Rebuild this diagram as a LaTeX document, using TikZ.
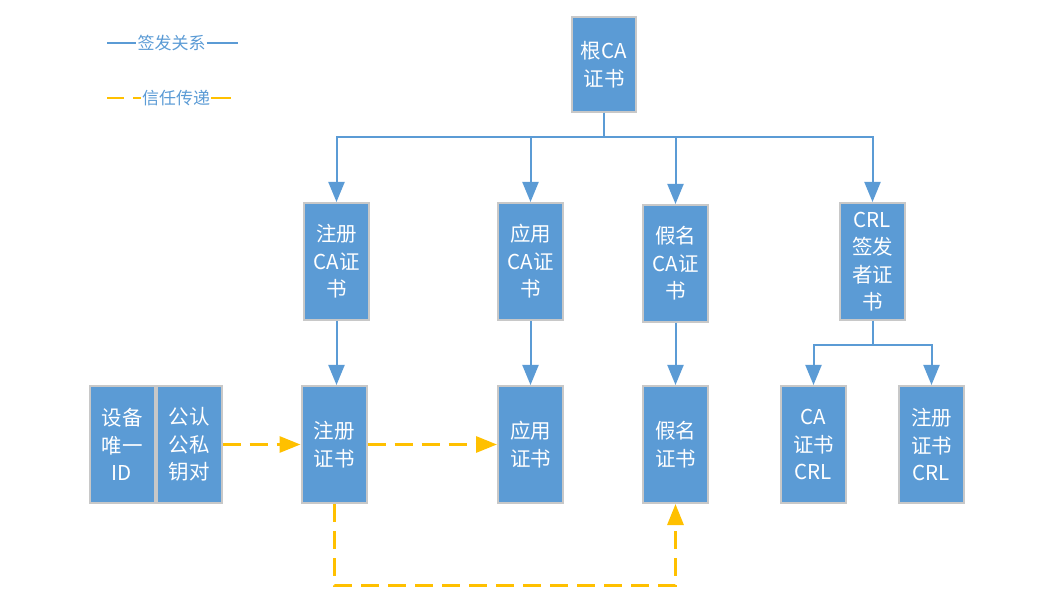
\documentclass[tikz,border=0pt]{standalone}
\usepackage{fontspec}
\setmainfont{Noto Sans CJK SC}
\usetikzlibrary{arrows.meta}
\definecolor{cablue}{HTML}{5B9BD5}
\definecolor{caborder}{HTML}{C8C8C8}
\definecolor{caorange}{HTML}{FFC000}
\begin{document}
\begin{tikzpicture}[x=1pt,y=-1pt,
  box/.style={draw=caborder, line width=2pt, fill=cablue, text=white,
    minimum width=65pt, minimum height=117pt, inner sep=0pt, align=center,
    font=\fontsize{20.5}{27.5}\selectfont},
  sign/.style={draw=cablue, line width=2pt, -{Triangle[width=16pt,length=20pt]}},
  trust/.style={draw=caorange, line width=3pt, dash pattern=on 18pt off 9pt,
    -{Triangle[width=16pt,length=21pt]}},
  legend/.style={text=cablue, inner sep=1pt, font=\fontsize{17}{19}\selectfont}]
\useasboundingbox (0,0) rectangle (1061,612);
% nodes
\node[box, minimum width=64pt, minimum height=95pt] (root) at (604,64.5) {根CA\\证书};
\node[box] (regca) at (336.5,261.5) {注册\\CA证\\书};
\node[box] (appca) at (530.5,261.5) {应用\\CA证\\书};
\node[box] (psnca) at (675.5,263.5) {假名\\CA证\\书};
\node[box] (crlca) at (872.5,261.5) {CRL\\签发\\者证\\书};
\node[box] (dev) at (122,444.5) {设备\\唯一\\ID};
\node[box] (key) at (189,444.5) {公认\\公私\\钥对};
\node[box] (reg) at (334,444.5) {注册\\证书};
\node[box] (app) at (530.5,444.5) {应用\\证书};
\node[box] (psn) at (675.5,444.5) {假名\\证书};
\node[box] (crl1) at (813.5,444.5) {CA\\证书\\CRL};
\node[box] (crl2) at (931.5,444.5) {注册\\证书\\CRL};
% signing tree
\draw[sign] (root.south) |- (336.5,137) -- (regca.north);
\draw[sign] (root.south) |- (530.5,137) -- (appca.north);
\draw[sign] (root.south) |- (675.5,137) -- (psnca.north);
\draw[sign] (root.south) |- (872.5,137) -- (crlca.north);
\draw[sign] (regca.south) -- (regca.south |- reg.north);
\draw[sign] (appca.south) -- (app.north);
\draw[sign] (psnca.south) -- (psn.north);
\draw[sign] (crlca.south) |- (813.5,345) -- (crl1.north);
\draw[sign] (crlca.south) |- (931.5,345) -- (crl2.north);
% trust
\draw[trust] (key.east) -- (reg.west);
\draw[trust] (reg.east) -- (app.west);
\draw[trust] (reg.south) -- (334,585) -- (675.5,585) -- (psn.south);
% legend
\node[legend] (l1) at (171.5,43) {签发关系};
\coordinate (l1a) at (107,43);
\coordinate (l1b) at (238,43);
\draw[cablue, line width=1.5pt] (l1a) -- (l1.west) (l1.east) -- (l1b);
\node[legend] (l2) at (176,98) {信任传递};
\coordinate (l2a) at (107,98);
\coordinate (l2b) at (231,98);
\draw[caorange, line width=2.5pt] (l2a) -- (124,98) (133,98) -- (l2.west) (l2.east) -- (l2b);
\end{tikzpicture}
\end{document}
